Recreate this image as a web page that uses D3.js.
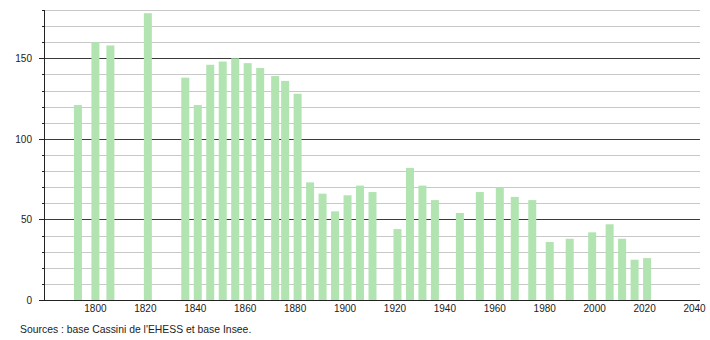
<!DOCTYPE html>
<html>
<head>
<meta charset="utf-8">
<script src="https://cdn.jsdelivr.net/npm/d3@7"></script>
<style>
  body { margin: 0; background: #fff; }
  svg text { font-family: "Liberation Sans", Arial, sans-serif; fill: #222; }
</style>
</head>
<body>
<svg id="chart" width="710" height="340"></svg>
<script>
// census years and population
const years = [1793, 1800, 1806, 1821, 1836, 1841, 1846, 1851, 1856, 1861, 1866, 1872,
  1876, 1881, 1886, 1891, 1896, 1901, 1906, 1911, 1921, 1926, 1931, 1936, 1946, 1954,
  1962, 1968, 1975, 1982, 1990, 1999, 2006, 2011, 2016, 2021];
const population = [121, 160, 158, 178, 138, 121, 146, 148, 150, 147, 144, 139,
  136, 128, 73, 66, 55, 65, 71, 67, 44, 82, 71, 62, 54, 67,
  70, 64, 62, 36, 38, 42, 47, 38, 25, 26];
const xTicks = [1800, 1820, 1840, 1860, 1880, 1900, 1920, 1940, 1960, 1980, 2000, 2020, 2040];
const yMajor = [0, 50, 100, 150];
const yMinor = d3.range(10, 190, 10).filter(v => v % 50 !== 0);
const source = "Sources : base Cassini de l'EHESS et base Insee.";

const svg = d3.select('#chart');
const plotLeft = 44;
const plotRight = 700;
const plotTop = 10;
const plotBottom = 300;

const x = d3.scaleLinear()
  .domain([1779.4, 2042.2])
  .range([plotLeft, plotRight]);

const y = d3.scaleLinear()
  .domain([0, 180])
  .range([plotBottom, plotTop]);

const py = d => Math.round(y(d)) + 0.5;

// grid lines
svg.append('g')
  .selectAll('line')
  .data(yMinor)
  .join('line')
  .attr('x1', plotLeft)
  .attr('x2', plotRight)
  .attr('y1', py)
  .attr('y2', py)
  .attr('stroke', '#c8c8c8');

svg.append('g')
  .selectAll('line')
  .data(yMajor.filter(d => d > 0))
  .join('line')
  .attr('x1', plotLeft)
  .attr('x2', plotRight)
  .attr('y1', py)
  .attr('y2', py)
  .attr('stroke', '#3a3a3a');

// bars
const barWidth = 8;
svg.append('g')
  .selectAll('rect')
  .data(years)
  .join('rect')
  .attr('x', d => x(d) - barWidth / 2)
  .attr('y', (d, i) => y(population[i]))
  .attr('width', barWidth)
  .attr('height', (d, i) => plotBottom - y(population[i]))
  .attr('fill', '#b1e4b1');

// y axis
const yAxis = svg.append('g');
yAxis.append('line')
  .attr('x1', plotLeft + 0.5)
  .attr('x2', plotLeft + 0.5)
  .attr('y1', plotTop)
  .attr('y2', plotBottom)
  .attr('stroke', '#222');

yAxis.selectAll('line.minor')
  .data(yMinor)
  .join('line')
  .attr('class', 'minor')
  .attr('x1', plotLeft - 2)
  .attr('x2', plotLeft)
  .attr('y1', py)
  .attr('y2', py)
  .attr('stroke', '#222');

yAxis.selectAll('line.major')
  .data(yMajor)
  .join('line')
  .attr('class', 'major')
  .attr('x1', plotLeft - 5)
  .attr('x2', plotLeft)
  .attr('y1', py)
  .attr('y2', py)
  .attr('stroke', '#222');

yAxis.selectAll('text')
  .data(yMajor)
  .join('text')
  .attr('x', plotLeft - 12)
  .attr('y', d => y(d) + 4)
  .attr('text-anchor', 'end')
  .attr('font-size', 10)
  .text(d => d);

// x axis
const xAxis = svg.append('g');
xAxis.append('line')
  .attr('x1', plotLeft)
  .attr('x2', plotRight)
  .attr('y1', plotBottom + 0.5)
  .attr('y2', plotBottom + 0.5)
  .attr('stroke', '#222');

xAxis.selectAll('text')
  .data(xTicks)
  .join('text')
  .attr('x', d => x(d))
  .attr('y', plotBottom + 12)
  .attr('text-anchor', 'middle')
  .attr('font-size', 10)
  .text(d => d);

svg.append('text')
  .attr('x', 20)
  .attr('y', 333)
  .attr('font-size', 10.4)
  .text(source);
</script>
</body>
</html>
